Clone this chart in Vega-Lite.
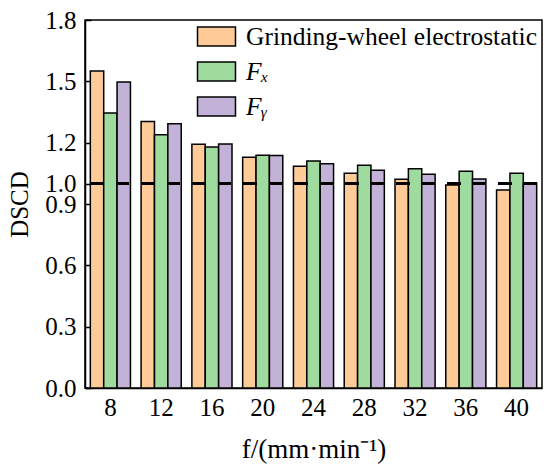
{
  "$schema": "https://vega.github.io/schema/vega-lite/v6.json",
  "width": 457,
  "height": 368,
  "autosize": {"type": "none"},
  "padding": {"left": 85, "top": 20, "right": 8, "bottom": 80},
  "background": "white",
  "config": {
    "font": "Liberation Serif",
    "view": {"stroke": "black", "strokeWidth": 1.5},
    "axis": {
      "domainColor": "black",
      "domainWidth": 1.5,
      "tickColor": "black",
      "tickWidth": 1.5,
      "grid": false,
      "labelFont": "Liberation Serif",
      "labelFontSize": 25,
      "labelColor": "black",
      "labelOverlap": false,
      "titleFont": "Liberation Serif",
      "titleFontSize": 25,
      "titleFontWeight": "normal",
      "titleColor": "black"
    }
  },
  "data": {
    "values": [
      {"f": "8", "series": "Grinding-wheel electrostatic", "dscd": 1.55},
      {"f": "8", "series": "Fₓ", "dscd": 1.345},
      {"f": "8", "series": "Fᵧ", "dscd": 1.497},
      {"f": "12", "series": "Grinding-wheel electrostatic", "dscd": 1.303},
      {"f": "12", "series": "Fₓ", "dscd": 1.239},
      {"f": "12", "series": "Fᵧ", "dscd": 1.292},
      {"f": "16", "series": "Grinding-wheel electrostatic", "dscd": 1.192},
      {"f": "16", "series": "Fₓ", "dscd": 1.179},
      {"f": "16", "series": "Fᵧ", "dscd": 1.194},
      {"f": "20", "series": "Grinding-wheel electrostatic", "dscd": 1.129},
      {"f": "20", "series": "Fₓ", "dscd": 1.138},
      {"f": "20", "series": "Fᵧ", "dscd": 1.137},
      {"f": "24", "series": "Grinding-wheel electrostatic", "dscd": 1.085},
      {"f": "24", "series": "Fₓ", "dscd": 1.11},
      {"f": "24", "series": "Fᵧ", "dscd": 1.097},
      {"f": "28", "series": "Grinding-wheel electrostatic", "dscd": 1.05},
      {"f": "28", "series": "Fₓ", "dscd": 1.089},
      {"f": "28", "series": "Fᵧ", "dscd": 1.065},
      {"f": "32", "series": "Grinding-wheel electrostatic", "dscd": 1.021},
      {"f": "32", "series": "Fₓ", "dscd": 1.073},
      {"f": "32", "series": "Fᵧ", "dscd": 1.045},
      {"f": "36", "series": "Grinding-wheel electrostatic", "dscd": 0.993},
      {"f": "36", "series": "Fₓ", "dscd": 1.06},
      {"f": "36", "series": "Fᵧ", "dscd": 1.022},
      {"f": "40", "series": "Grinding-wheel electrostatic", "dscd": 0.969},
      {"f": "40", "series": "Fₓ", "dscd": 1.05},
      {"f": "40", "series": "Fᵧ", "dscd": 1.003}
    ]
  },
  "layer": [
    {
      "mark": {"type": "bar", "stroke": "black", "strokeWidth": 1.5},
      "encoding": {
        "x": {
          "field": "f",
          "type": "ordinal",
          "sort": null,
          "scale": {"paddingInner": 0.21, "paddingOuter": 0.105},
          "axis": {
            "title": "f/(mm·min⁻¹)",
            "titleFontSize": 27,
            "labelAngle": 0,
            "tickSize": -5,
            "labelPadding": 12,
            "titlePadding": 16
          }
        },
        "xOffset": {
          "field": "series",
          "type": "nominal",
          "sort": ["Grinding-wheel electrostatic", "Fₓ", "Fᵧ"]
        },
        "y": {
          "field": "dscd",
          "type": "quantitative",
          "scale": {"domain": [0, 1.8], "nice": false},
          "axis": {
            "title": "DSCD",
            "values": [0, 0.3, 0.6, 0.9, 1.0, 1.2, 1.5, 1.8],
            "format": ".1f",
            "tickSize": -6,
            "labelPadding": 15,
            "titlePadding": 12
          }
        },
        "color": {
          "field": "series",
          "type": "nominal",
          "scale": {
            "domain": ["Grinding-wheel electrostatic", "Fₓ", "Fᵧ"],
            "range": ["#FECB98", "#9FDA9E", "#C2B2D8"]
          },
          "legend": {
            "title": null,
            "orient": "none",
            "legendX": 117,
            "legendY": 2,
            "padding": 0,
            "labelFont": "Liberation Serif",
            "labelFontSize": 25.5,
            "labelColor": "black",
            "labelLimit": 400,
            "labelFontStyle": {"expr": "datum.label == 'Grinding-wheel electrostatic' ? 'normal' : 'italic'"},
            "symbolType": "M-1.4,-0.7H1.4V0.7H-1.4Z",
            "symbolSize": 736,
            "symbolStrokeColor": "black",
            "symbolStrokeWidth": 1.5,
            "symbolOpacity": 1,
            "labelOffset": 15,
            "rowPadding": 7
          }
        }
      }
    },
    {
      "mark": {
        "type": "rule",
        "color": "black",
        "strokeWidth": 2.5,
        "strokeDash": [13, 12.5],
        "strokeDashOffset": 20.5
      },
      "encoding": {"y": {"datum": 1.0}}
    }
  ]
}
